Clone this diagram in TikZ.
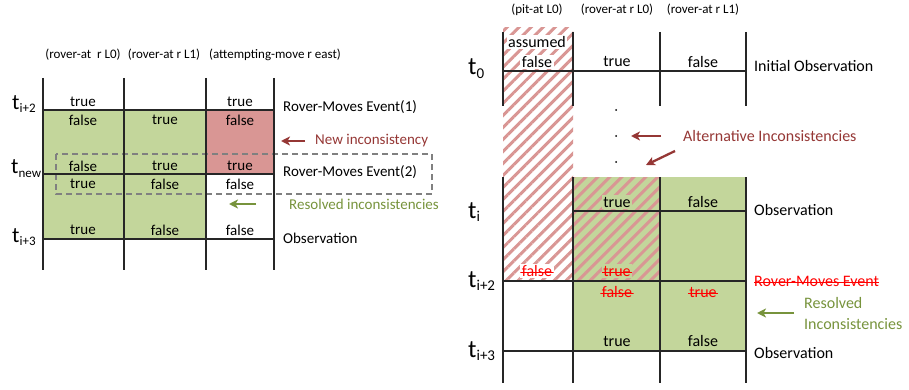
\documentclass[tikz,border=0pt]{standalone}
\usepackage{fontspec}
\setmainfont{Carlito}
\usetikzlibrary{patterns.meta,arrows.meta}
\definecolor{gfill}{HTML}{C3D69B}
\definecolor{rfill}{HTML}{D99694}
\definecolor{hatchc}{HTML}{D99694}
\definecolor{darkred}{HTML}{953735}
\definecolor{olivec}{HTML}{77933C}
\definecolor{gridc}{HTML}{262626}
\newcommand{\tlabl}[1]{t\raisebox{-3pt}{\fontsize{13}{15}\selectfont #1}}
\newcommand{\tlabr}[1]{t\raisebox{-3.5pt}{\fontsize{15}{17}\selectfont #1}}
\begin{document}
\begin{tikzpicture}[x=1pt,y=-1pt,
  gridline/.style={draw=gridc,line width=1.1pt},
  hdr/.style={font=\fontsize{13}{15}\selectfont,inner sep=0pt},
  lcell/.style={font=\fontsize{15}{18}\selectfont,inner sep=1pt},
  rcell/.style={font=\fontsize{16}{19}\selectfont,inner sep=1.5pt},
  llbl/.style={anchor=west,font=\fontsize{15}{18}\selectfont,inner sep=0pt},
  rlbl/.style={anchor=west,font=\fontsize{16}{19}\selectfont,inner sep=0pt},
  tll/.style={anchor=base west,font=\fontsize{22}{26}\selectfont,inner sep=0pt},
  tlr/.style={anchor=base west,font=\fontsize{25}{29}\selectfont,inner sep=0pt},
  struck/.style={text=red,path picture={\draw[red,line width=1pt]
     ([yshift=-1pt]path picture bounding box.west) -- ([yshift=-1pt]path picture bounding box.east);}},
  hatch/.style={pattern={Lines[angle=45,distance=8.5pt,line width=3pt]},pattern color=hatchc},
  redarr/.style={draw=darkred,line width=2.3pt,-{Stealth[length=9pt,width=9pt,inset=2.5pt]}},
  grnarr/.style={draw=olivec,line width=2.3pt,-{Stealth[length=9pt,width=9pt,inset=2.5pt]}},
  dot/.style={circle,fill=black,inner sep=0pt,minimum size=2pt}
]
\useasboundingbox (0,0) rectangle (909,390);

% ---------------- LEFT PANEL ----------------
\fill[gfill] (43,110) rectangle (206,239);
\fill[rfill] (206,110) rectangle (274,174);
\draw[draw=gray,line width=1.5pt,dash pattern=on 6pt off 4pt] (56,154) rectangle (432,194);
\foreach \x in {43,124,206,274} \draw[gridline] (\x,78) -- (\x,270);
\foreach \y in {110,174,239} \draw[gridline] (43,\y) -- (274,\y);

\node[hdr] (lh1) at (83,55) {(rover-at\ \ r L0)};
\node[hdr] (lh2) at (164,55) {(rover-at r L1)};
\node[hdr] (lh3) at (275,55) {(attempting-move r east)};

\node[tll] (lt1) at (12,110) {\tlabl{i+2}};
\node[tll] (lt2) at (11,174) {\tlabl{new}};
\node[tll] (lt3) at (12,242) {\tlabl{i+3}};

\node[lcell] (a1) at (83,102) {true};
\node[lcell] (a3) at (240,102) {true};
\node[lcell] (b1) at (83,120) {false};
\node[lcell] (b2) at (165,120) {true};
\node[lcell] (b3) at (240,120) {false};
\node[lcell] (c1) at (83,166) {false};
\node[lcell] (c2) at (165,166) {true};
\node[lcell] (c3) at (240,166) {true};
\node[lcell] (d1) at (83,184) {true};
\node[lcell] (d2) at (165,184) {false};
\node[lcell] (d3) at (240,184) {false};
\node[lcell] (e1) at (83,230) {true};
\node[lcell] (e2) at (165,230) {false};
\node[lcell] (e3) at (240,230) {false};

\node[llbl] (ev1) at (283,107) {Rover-Moves Event(1)};
\node[llbl] (ev2) at (283,172) {Rover-Moves Event(2)};
\node[llbl] (obsl) at (283,238) {Observation};

\coordinate (na0) at (305,141);
\coordinate (na1) at (281,141);
\draw[redarr] (na0) -- (na1);
\node[llbl,text=darkred] (newinc) at (315,141) {New inconsistency};
\coordinate (ra0) at (256,204);
\coordinate (ra1) at (229,204);
\draw[grnarr] (ra0) -- (ra1);
\node[llbl,text=olivec] (resl) at (289,204) {Resolved inconsistencies};

% ---------------- RIGHT PANEL ----------------
\fill[gfill] (573,177) rectangle (746,351);
\fill[hatch] (503,28) rectangle (573,281);
\fill[hatch] (573,177) rectangle (660,281);
\foreach \x in {503,573,660,746} {
  \draw[gridline] (\x,32) -- (\x,106);
  \draw[gridline] (\x,177) -- (\x,383);
}
\draw[gridline] (503,71) -- (746,71);
\draw[gridline] (573,211) -- (746,211);
\draw[gridline] (503,281) -- (746,281);
\draw[gridline] (503,351) -- (746,351);

\node[hdr] (rh1) at (537,10) {(pit-at L0)};
\node[hdr] (rh2) at (617,10) {(rover-at r L0)};
\node[hdr] (rh3) at (703,10) {(rover-at r L1)};

\node[tlr] (rt0) at (468,75) {\tlabr{0}};
\node[tlr] (rt1) at (468,218) {\tlabr{i}};
\node[tlr] (rt2) at (468,287) {\tlabr{i+2}};
\node[tlr] (rt3) at (468,357) {\tlabr{i+3}};

\node[rcell,fill=white] (p1) at (537,42) {assumed};
\node[rcell,fill=white] (p2) at (537,62) {false};
\node[rcell] (p3) at (617,62) {true};
\node[rcell] (p4) at (703,62) {false};
\node[rlbl] (initobs) at (754,66) {Initial Observation};

\node[dot] (dt1) at (616,110) {};
\node[dot] (dt2) at (616,136) {};
\node[dot] (dt3) at (616,162) {};
\coordinate (aa0) at (661,136);
\coordinate (aa1) at (631,136);
\coordinate (ab0) at (675,151);
\coordinate (ab1) at (646,165);
\draw[redarr] (aa0) -- (aa1);
\draw[redarr] (ab0) -- (ab1);
\node[rlbl,text=darkred] (altinc) at (683,136) {Alternative Inconsistencies};

\node[rcell,fill=gfill] (q2) at (617,202) {true};
\node[rcell] (q3) at (703,202) {false};
\node[rlbl] (obs1) at (754,210) {Observation};

\node[rcell,fill=white,struck] (s1) at (537,271) {false};
\node[rcell,fill=gfill,struck] (s2) at (617,271) {true};
\node[rcell,struck] (s3) at (617,292) {false};
\node[rcell,struck] (s4) at (703,292) {true};
\node[rlbl,struck] (rme) at (754,281) {Rover-Moves Event};

\node[rcell] (u2) at (617,341) {true};
\node[rcell] (u3) at (703,341) {false};
\node[rlbl] (obs2) at (754,353) {Observation};

\coordinate (rr0) at (794,313);
\coordinate (rr1) at (757,313);
\draw[grnarr] (rr0) -- (rr1);
\node[rlbl,text=olivec] (res1) at (804,303) {Resolved};
\node[rlbl,text=olivec] (res2) at (804,324) {Inconsistencies};
\end{tikzpicture}
\end{document}
